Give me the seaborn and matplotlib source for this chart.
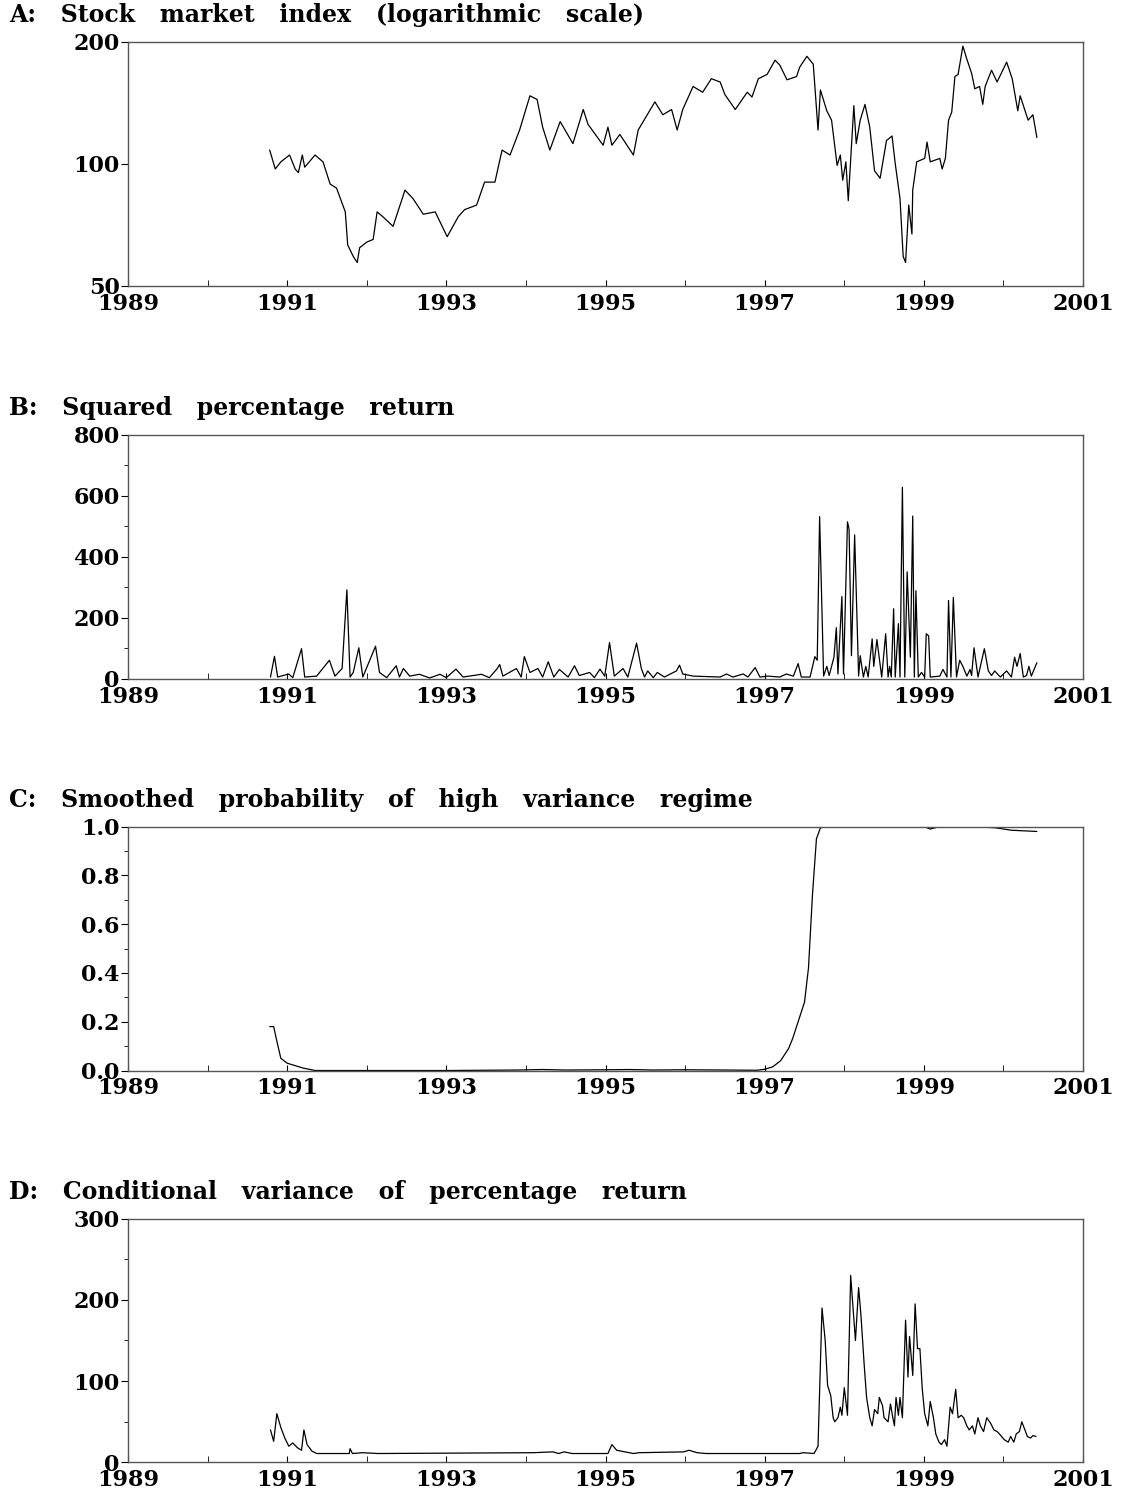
import matplotlib
matplotlib.use("Agg")
import matplotlib.pyplot as plt
from matplotlib.ticker import FixedLocator, NullLocator, NullFormatter
import seaborn as sns, pandas as pd, numpy as np

# panel A: stock index (year, level)
a_year = [1990.78, 1990.85, 1990.92, 1991.03, 1991.10, 1991.14, 1991.19, 1991.22, 1991.35, 1991.45, 1991.54,
          1991.62, 1991.73, 1991.76, 1991.83, 1991.88, 1991.91, 1992.00, 1992.08, 1992.13, 1992.20, 1992.33, 1992.48,
          1992.58, 1992.71, 1992.86, 1993.01, 1993.15, 1993.23, 1993.38, 1993.48, 1993.61, 1993.70, 1993.80,
          1993.92, 1994.05, 1994.14, 1994.21, 1994.30, 1994.43, 1994.59, 1994.72, 1994.78, 1994.97, 1995.03,
          1995.08, 1995.18, 1995.35, 1995.41, 1995.62, 1995.72, 1995.83, 1995.90, 1995.97, 1996.10, 1996.22,
          1996.33, 1996.44, 1996.50, 1996.63, 1996.78, 1996.84, 1996.92, 1997.03, 1997.13, 1997.19, 1997.28,
          1997.40, 1997.44, 1997.53, 1997.61, 1997.67, 1997.70, 1997.78, 1997.84, 1997.91, 1997.95, 1997.98,
          1998.02, 1998.05, 1998.12, 1998.15, 1998.20, 1998.26, 1998.32, 1998.38, 1998.45, 1998.53, 1998.60,
          1998.64, 1998.70, 1998.74, 1998.77, 1998.81, 1998.85, 1998.86, 1998.91, 1999.01, 1999.04, 1999.08,
          1999.20, 1999.23, 1999.27, 1999.31, 1999.35, 1999.39, 1999.43, 1999.49, 1999.54, 1999.60, 1999.64,
          1999.70, 1999.74, 1999.77, 1999.85, 1999.92, 2000.04, 2000.11, 2000.18, 2000.21, 2000.31, 2000.37,
          2000.42]
a_val = [108, 97, 101, 105, 97, 95, 105, 98, 105, 101, 89,
         87, 76, 63, 59, 57, 62, 64, 65, 76, 74, 70, 86,
         82, 75, 76, 66, 74, 77, 79, 90, 90, 108, 105,
         121, 147, 144, 123, 108, 127, 112, 136, 125, 111, 123,
         111, 118, 105, 121, 142, 132, 136, 121, 136, 155, 150,
         162, 159, 148, 136, 150, 146, 162, 166, 180, 175, 161,
         164, 173, 184, 176, 121, 152, 135, 128, 99, 105, 91,
         101, 81, 139, 112, 128, 140, 123, 96, 92, 114, 117,
         100, 82, 59, 57, 79, 67, 86, 101, 103, 113, 101,
         103, 97, 103, 128, 134, 164, 166, 195, 181, 167, 153,
         155, 140, 155, 170, 159, 178, 162, 135, 147, 128, 132,
         116]

# panel B: squared percentage return
b_year = [1990.79, 1990.84, 1990.88, 1991.02, 1991.07, 1991.18, 1991.22, 1991.37, 1991.53, 1991.60, 1991.69,
          1991.75, 1991.79, 1991.83, 1991.90, 1991.95, 1992.11, 1992.16, 1992.25, 1992.37, 1992.41, 1992.46,
          1992.54, 1992.66, 1992.79, 1992.92, 1993.00, 1993.12, 1993.21, 1993.44, 1993.54, 1993.64, 1993.67,
          1993.71, 1993.88, 1993.94, 1993.98, 1994.05, 1994.15, 1994.21, 1994.28, 1994.35, 1994.42, 1994.53,
          1994.61, 1994.67, 1994.80, 1994.86, 1994.93, 1994.99, 1995.05, 1995.11, 1995.22, 1995.28, 1995.39,
          1995.45, 1995.49, 1995.53, 1995.60, 1995.65, 1995.74, 1995.89, 1995.93, 1995.97, 1996.10,
          1996.44, 1996.52, 1996.60, 1996.73, 1996.79, 1996.88, 1996.94, 1997.04, 1997.19, 1997.27, 1997.36,
          1997.42, 1997.46, 1997.57, 1997.63, 1997.66, 1997.69, 1997.74, 1997.78, 1997.81, 1997.84, 1997.87,
          1997.90, 1997.92, 1997.97, 1997.99, 1998.04, 1998.06, 1998.09, 1998.13, 1998.18, 1998.20, 1998.24,
          1998.27, 1998.30, 1998.35, 1998.37, 1998.41, 1998.47, 1998.52, 1998.55, 1998.57, 1998.59, 1998.62,
          1998.64, 1998.68, 1998.70, 1998.73, 1998.76, 1998.79, 1998.83, 1998.86, 1998.88, 1998.90, 1998.93,
          1998.97, 1999.01, 1999.03, 1999.06, 1999.08, 1999.20, 1999.24, 1999.29, 1999.31, 1999.34, 1999.37,
          1999.41, 1999.45, 1999.49, 1999.54, 1999.58, 1999.60, 1999.63, 1999.68, 1999.76, 1999.81, 1999.85,
          1999.89, 1999.96, 2000.04, 2000.10, 2000.14, 2000.17, 2000.21, 2000.25, 2000.29, 2000.32, 2000.35,
          2000.42]
b_val = [5, 73, 5, 15, 3, 98, 5, 8, 60, 8, 33,
         291, 5, 20, 101, 5, 106, 20, 3, 42, 5, 33,
         8, 14, 2, 14, 3, 31, 5, 14, 3, 33, 46,
         8, 33, 5, 72, 20, 33, 5, 55, 5, 30, 5,
         42, 10, 20, 3, 31, 8, 118, 8, 33, 5, 116,
         33, 5, 25, 3, 20, 5, 25, 44, 15, 8,
         5, 15, 5, 15, 5, 36, 5, 8, 5, 15, 8,
         49, 5, 5, 72, 60, 531, 8, 40, 10, 40, 70,
         167, 15, 269, 15, 514, 490, 75, 471, 8, 75, 5,
         40, 5, 130, 40, 128, 5, 147, 5, 40, 5, 229,
         5, 180, 5, 627, 5, 350, 70, 533, 5, 288, 5,
         20, 5, 147, 140, 5, 8, 30, 5, 256, 5, 266,
         5, 60, 40, 8, 30, 10, 101, 5, 98, 25, 10,
         25, 5, 25, 5, 70, 40, 82, 5, 10, 40, 8,
         52]

# panel C: smoothed probability of high variance regime
c_year = [1990.78, 1990.83, 1990.87, 1990.92, 1991.00, 1991.10, 1991.20, 1991.35, 1992.0, 1993.0, 1993.9,
          1994.2, 1994.5, 1995.0, 1995.3, 1995.6, 1996.0, 1996.5, 1996.9, 1997.0, 1997.1, 1997.2, 1997.3,
          1997.35, 1997.40, 1997.45, 1997.50, 1997.55, 1997.60, 1997.65, 1997.70, 1997.8, 1998.5, 1999.0,
          1999.08, 1999.2, 1999.6, 1999.9, 2000.1, 2000.42]
c_val = [0.18, 0.18, 0.12, 0.05, 0.03, 0.02, 0.01, 0.0, 0.0, 0.0, 0.002,
         0.004, 0.002, 0.003, 0.004, 0.002, 0.003, 0.002, 0.001, 0.005, 0.015, 0.04, 0.09,
         0.13, 0.18, 0.23, 0.28, 0.42, 0.72, 0.95, 0.995, 1.0, 1.0, 1.0,
         0.99, 1.0, 1.0, 0.995, 0.985, 0.98]

# panel D: conditional variance of percentage return
d_year = [1990.79, 1990.83, 1990.87, 1990.92, 1990.97, 1991.02, 1991.07, 1991.13, 1991.18, 1991.21, 1991.25,
          1991.31, 1991.37, 1991.78, 1991.79, 1991.82, 1991.95, 1992.14, 1994.09, 1994.34, 1994.41, 1994.48,
          1994.58, 1995.03, 1995.08, 1995.14, 1995.35, 1995.42, 1995.98, 1996.05, 1996.15, 1996.26, 1997.44,
          1997.48, 1997.62, 1997.67, 1997.72, 1997.76, 1997.79, 1997.83, 1997.86, 1997.88, 1997.92, 1997.95,
          1997.97, 1998.00, 1998.04, 1998.08, 1998.14, 1998.18, 1998.21, 1998.25, 1998.28, 1998.32, 1998.35,
          1998.38, 1998.42, 1998.44, 1998.48, 1998.50, 1998.55, 1998.58, 1998.61, 1998.63, 1998.65, 1998.68,
          1998.70, 1998.73, 1998.77, 1998.80, 1998.82, 1998.86, 1998.89, 1998.92, 1998.95, 1998.98, 1999.01,
          1999.05, 1999.08, 1999.12, 1999.15, 1999.19, 1999.22, 1999.26, 1999.29, 1999.33, 1999.36, 1999.40,
          1999.43, 1999.47, 1999.50, 1999.54, 1999.57, 1999.61, 1999.64, 1999.68, 1999.71, 1999.75, 1999.79,
          1999.84, 1999.88, 1999.92, 1999.95, 2000.01, 2000.06, 2000.09, 2000.13, 2000.16, 2000.20, 2000.23,
          2000.27, 2000.30, 2000.34, 2000.37, 2000.41]
d_val = [40, 26, 60, 43, 30, 20, 24, 18, 15, 40, 22,
         14, 11, 11, 17, 11, 12, 11, 12, 13, 11, 13,
         11, 11, 22, 15, 11, 12, 13, 15, 12, 11, 11,
         12, 11, 20, 190, 150, 95, 82, 55, 50, 55, 68,
         58, 92, 58, 230, 150, 215, 180, 120, 80, 55, 45,
         65, 60, 80, 70, 55, 50, 72, 55, 45, 80, 58,
         80, 55, 175, 105, 155, 107, 195, 140, 140, 90, 60,
         45, 75, 55, 35, 25, 22, 28, 20, 68, 60, 90,
         55, 58, 55, 45, 40, 45, 35, 55, 45, 38, 55,
         48, 40, 38, 35, 28, 25, 32, 25, 35, 38, 50,
         40, 32, 30, 33, 32]

titles = ["A:  Stock  market  index  (logarithmic  scale)",
          "B:  Squared  percentage  return",
          "C:  Smoothed  probability  of  high  variance  regime",
          "D:  Conditional  variance  of  percentage  return"]

sns.set_style("ticks")
plt.rcParams['font.family'] = ['DejaVu Serif']
plt.rcParams['font.weight'] = 'bold'
plt.rcParams['text.color'] = 'black'
plt.rcParams['xtick.color'] = 'black'
plt.rcParams['ytick.color'] = 'black'
plt.rcParams['xtick.labelcolor'] = 'black'
plt.rcParams['ytick.labelcolor'] = 'black'

fig = plt.figure(figsize=(11.27, 14.92), dpi=100)
bottoms = [0.8086, 0.5452, 0.2825, 0.0198]
series = [(a_year, a_val), (b_year, b_val), (c_year, c_val), (d_year, d_val)]

for i, (xs, ys) in enumerate(series):
    ax = fig.add_axes([0.1136, bottoms[i], 0.8474, 0.1635])
    df = pd.DataFrame({"year": xs, "val": ys})
    sns.lineplot(data=df, x="year", y="val", ax=ax, color="black", lw=0.9)
    ax.set_xlim(1989, 2001)
    ax.set_xticks(range(1989, 2002, 2))
    ax.xaxis.set_minor_locator(FixedLocator(range(1990, 2001, 2)))
    ax.tick_params(axis='x', which='both', direction='in', length=4, labelsize=16, pad=5)
    ax.tick_params(axis='y', direction='out', length=5, labelsize=16, pad=1)
    ax.set_xlabel("")
    ax.set_ylabel("")
    for s in ax.spines.values():
        s.set_color("#555555")
        s.set_linewidth(1.0)
    if i == 0:
        ax.set_yscale("log")
        ax.set_ylim(50, 200)
        ax.set_yticks([50, 100, 200])
        ax.set_yticklabels(["50", "100", "200"])
        ax.yaxis.set_minor_locator(NullLocator())
        ax.yaxis.set_minor_formatter(NullFormatter())
    elif i == 1:
        ax.set_ylim(0, 800)
        ax.set_yticks([0, 200, 400, 600, 800])
        ax.yaxis.set_minor_locator(FixedLocator([100, 300, 500, 700]))
        ax.tick_params(axis='y', which='minor', direction='out', length=3)
    elif i == 2:
        ax.set_ylim(0, 1.0)
        ax.set_yticks(np.round(np.arange(0, 1.01, 0.2), 1))
        ax.set_yticklabels(["0.0", "0.2", "0.4", "0.6", "0.8", "1.0"])
        ax.yaxis.set_minor_locator(FixedLocator([0.1, 0.3, 0.5, 0.7, 0.9]))
        ax.tick_params(axis='y', which='minor', direction='out', length=3)
    else:
        ax.set_ylim(0, 300)
        ax.set_yticks([0, 100, 200, 300])
        ax.yaxis.set_minor_locator(FixedLocator([50, 150, 250]))
        ax.tick_params(axis='y', which='minor', direction='out', length=3)
    fig.text(0.008, bottoms[i] + 0.1635 + 0.010, titles[i].replace("  ", "   "), fontsize=17,
             fontweight='bold', ha='left', va='bottom')

fig.savefig("out.png", dpi=100)
